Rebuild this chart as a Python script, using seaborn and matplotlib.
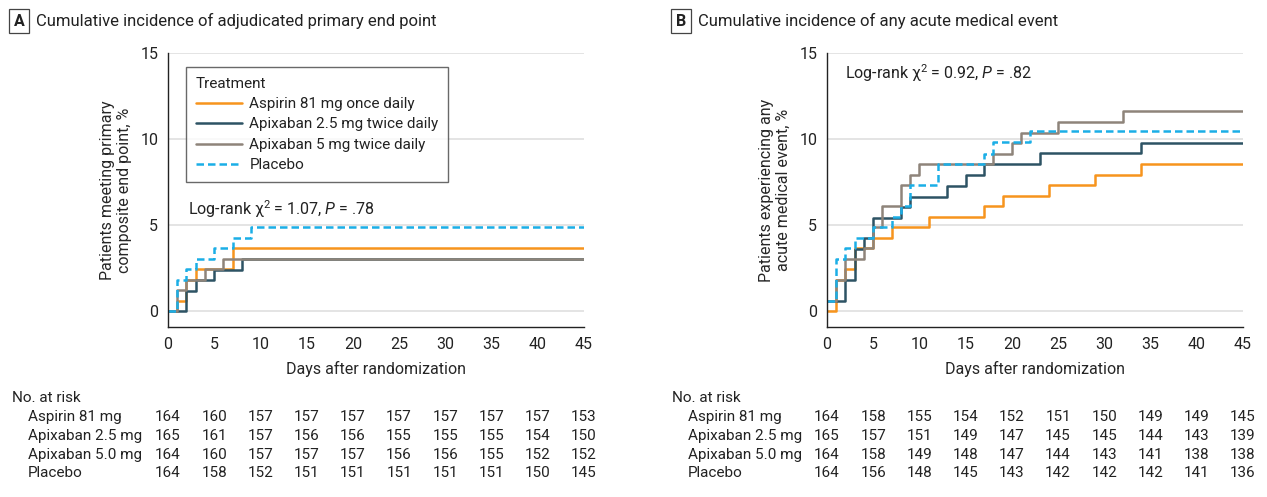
import numpy as np
import pandas as pd
import matplotlib
matplotlib.use("Agg")
import matplotlib.pyplot as plt
import matplotlib.transforms as mtransforms
import seaborn as sns

# ---- data ----
treatments = ["Aspirin 81 mg once daily", "Apixaban 2.5 mg twice daily",
              "Apixaban 5 mg twice daily", "Placebo"]
risk_labels = ["Aspirin 81 mg", "Apixaban 2.5 mg", "Apixaban 5.0 mg", "Placebo"]
risk_days = [0, 5, 10, 15, 20, 25, 30, 35, 40, 45]

# panel A: adjudicated primary end point
a_aspirin_t = [0, 1, 2, 3, 7, 45]
a_aspirin_y = [0, 0.61, 1.83, 2.44, 3.66, 3.66]
a_apix25_t = [0, 2, 3, 5, 8, 45]
a_apix25_y = [0, 1.21, 1.82, 2.42, 3.03, 3.03]
a_apix5_t = [0, 1, 2, 4, 6, 45]
a_apix5_y = [0, 1.22, 1.83, 2.44, 3.05, 3.05]
a_placebo_t = [0, 1, 2, 3, 5, 7, 9, 45]
a_placebo_y = [0, 1.83, 2.44, 3.05, 3.66, 4.27, 4.88, 4.88]

# panel B: any acute medical event
b_aspirin_t = [0, 1, 2, 3, 5, 7, 11, 17, 19, 24, 29, 34, 45]
b_aspirin_y = [0, 1.83, 2.44, 3.66, 4.27, 4.88, 5.49, 6.10, 6.71, 7.32, 7.93, 8.55, 8.55]
b_apix25_t = [0, 2, 3, 4, 5, 8, 9, 13, 15, 17, 23, 34, 45]
b_apix25_y = [0.61, 1.82, 3.64, 4.24, 5.45, 6.06, 6.67, 7.29, 7.90, 8.53, 9.17, 9.79, 9.79]
b_apix5_t = [0, 1, 2, 4, 5, 6, 8, 9, 10, 18, 20, 21, 25, 32, 45]
b_apix5_y = [0.61, 1.83, 3.05, 3.66, 4.88, 6.10, 7.32, 7.93, 8.54, 9.15, 9.79, 10.37, 10.98, 11.62, 11.62]
b_placebo_t = [0, 1, 2, 3, 5, 7, 8, 9, 12, 17, 18, 22, 45]
b_placebo_y = [0.61, 3.05, 3.66, 4.27, 4.88, 5.49, 6.10, 7.32, 8.54, 9.15, 9.84, 10.48, 10.48]

a_risk_aspirin = [164, 160, 157, 157, 157, 157, 157, 157, 157, 153]
a_risk_apix25 = [165, 161, 157, 156, 156, 155, 155, 155, 154, 150]
a_risk_apix5 = [164, 160, 157, 157, 157, 156, 156, 155, 152, 152]
a_risk_placebo = [164, 158, 152, 151, 151, 151, 151, 151, 150, 145]

b_risk_aspirin = [164, 158, 155, 154, 152, 151, 150, 149, 149, 145]
b_risk_apix25 = [165, 157, 151, 149, 147, 145, 145, 144, 143, 139]
b_risk_apix5 = [164, 158, 149, 148, 147, 144, 143, 141, 138, 138]
b_risk_placebo = [164, 156, 148, 145, 143, 142, 142, 142, 141, 136]

colors = ["#F7941D", "#2D5364", "#8E847A", "#1BAEE6"]

sns.set_style("white")
FONT = ["Roboto", "DejaVu Sans"]
plt.rcParams["font.family"] = FONT
plt.rcParams["mathtext.fontset"] = "custom"
plt.rcParams["mathtext.rm"] = FONT[0]
plt.rcParams["mathtext.it"] = FONT[0] + ":italic"
plt.rcParams["text.color"] = "#222222"

fig = plt.figure(figsize=(12.67, 4.97), dpi=100)
W, H = 1267, 497


def px(x, y):
    return x / W, 1 - y / H


axA = fig.add_axes([168 / W, 1 - 327 / H, 416 / W, 274 / H])
axB = fig.add_axes([827 / W, 1 - 327 / H, 416 / W, 274 / H])

panel_a = [(a_aspirin_t, a_aspirin_y), (a_apix25_t, a_apix25_y),
           (a_apix5_t, a_apix5_y), (a_placebo_t, a_placebo_y)]
panel_b = [(b_aspirin_t, b_aspirin_y), (b_apix25_t, b_apix25_y),
           (b_apix5_t, b_apix5_y), (b_placebo_t, b_placebo_y)]

for ax, series in [(axA, panel_a), (axB, panel_b)]:
    for i, (t, y) in enumerate(series):
        df = pd.DataFrame({"day": t, "pct": y})
        ls = (0, (3, 1.6)) if i == 3 else "-"
        sns.lineplot(data=df, x="day", y="pct", ax=ax, color=colors[i],
                     drawstyle="steps-post", linewidth=1.8, linestyle=ls,
                     label=treatments[i], legend=False)
    ax.set_xlim(0, 45)
    ax.set_ylim(-0.9, 15)
    ax.set_xticks(np.arange(0, 46, 5))
    ax.set_yticks([0, 5, 10, 15])
    ax.yaxis.grid(True, color="#dddddd", linewidth=1.1)
    ax.set_axisbelow(True)
    for s in ["top", "right"]:
        ax.spines[s].set_visible(False)
    for s in ["left", "bottom"]:
        ax.spines[s].set_color("#222222")
        ax.spines[s].set_linewidth(1.0)
    ax.tick_params(direction="out", length=4, width=1, labelsize=11.5,
                   colors="#222222", pad=3)
    ax.set_xlabel("Days after randomization", fontsize=11.5)
    ax.xaxis.set_label_coords(0.5, -0.125)

axA.set_ylabel("Patients meeting primary\ncomposite end point, %", fontsize=11.5,
               linespacing=1.15)
axB.set_ylabel("Patients experiencing any\nacute medical event, %", fontsize=11.5,
               linespacing=1.15)
axA.yaxis.set_label_coords(-0.087, 0.5)
axB.yaxis.set_label_coords(-0.087, 0.5)

leg = axA.legend(handles=axA.get_lines()[:4], title="Treatment", loc="upper left",
                 bbox_to_anchor=(0.043, 0.95), borderaxespad=0, fontsize=11,
                 title_fontsize=11, frameon=True, fancybox=False,
                 handlelength=3.0, handletextpad=0.5, labelspacing=0.42,
                 borderpad=0.65, alignment="left")
leg.get_frame().set_edgecolor("#444444")
leg.get_frame().set_linewidth(1.0)

axA.text(0.048, 0.43, "Log-rank χ$^2$ = 1.07, $\\mathit{P}$ = .78",
         transform=axA.transAxes, fontsize=11.5, va="center")
axB.text(0.043, 0.927, "Log-rank χ$^2$ = 0.92, $\\mathit{P}$ = .82",
         transform=axB.transAxes, fontsize=11.5, va="center")

# panel headers
for letter, bx, title, tx in [("A", 19, "Cumulative incidence of adjudicated primary end point", 36),
                              ("B", 681, "Cumulative incidence of any acute medical event", 698)]:
    fig.text(*px(bx, 21), letter, ha="center", va="center", fontsize=11.5,
             fontweight="bold",
             bbox=dict(boxstyle="square,pad=0.3", fc="white", ec="#444444", lw=0.9))
    fig.text(*px(tx, 21), title, ha="left", va="center", fontsize=12)

# numbers at risk
row_y = [417, 436, 455, 473]
for ax, lx, rows in [(axA, 12, [a_risk_aspirin, a_risk_apix25, a_risk_apix5, a_risk_placebo]),
                     (axB, 672, [b_risk_aspirin, b_risk_apix25, b_risk_apix5, b_risk_placebo])]:
    fig.text(*px(lx, 398), "No. at risk", ha="left", va="center", fontsize=11)
    trans = mtransforms.blended_transform_factory(ax.transData, fig.transFigure)
    for r, vals in enumerate(rows):
        fig.text(*px(lx + 16, row_y[r]), risk_labels[r], ha="left", va="center", fontsize=11)
        for d, v in zip(risk_days, vals):
            ax.text(d, 1 - row_y[r] / H, str(v), transform=trans, ha="center",
                    va="center", fontsize=11, clip_on=False)

fig.savefig("out.png", dpi=100)
